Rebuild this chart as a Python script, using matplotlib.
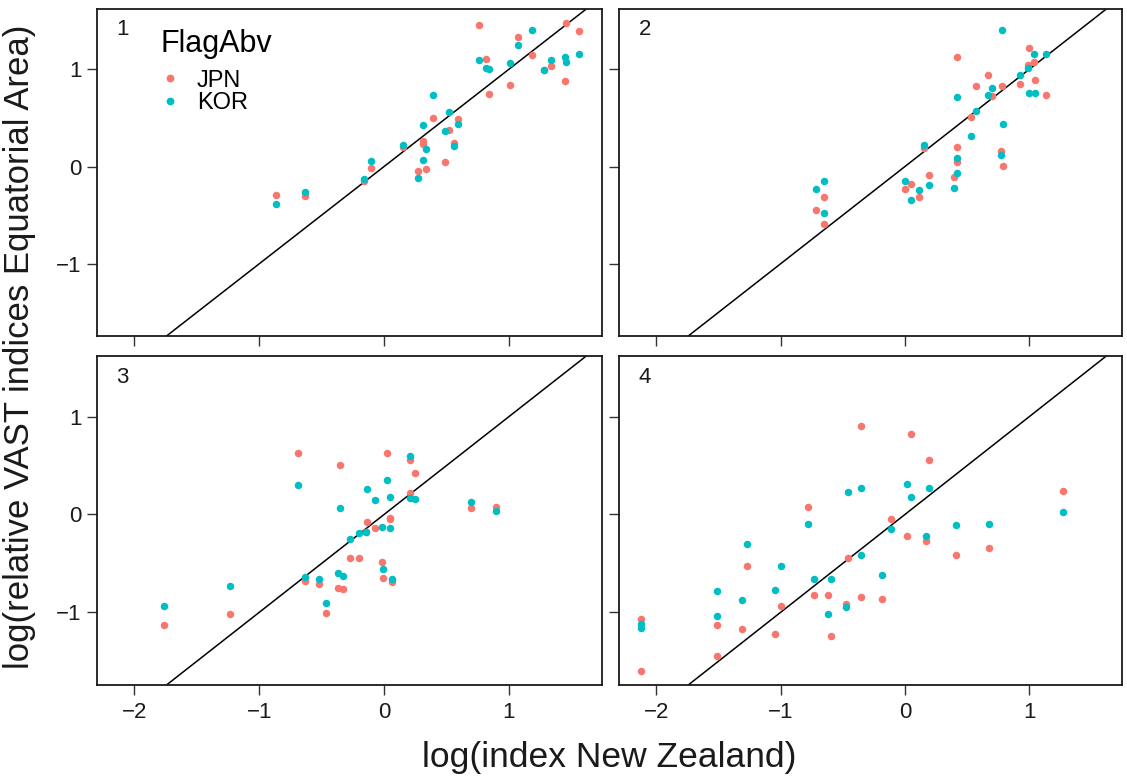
import matplotlib
matplotlib.use("Agg")
import matplotlib.pyplot as plt
from matplotlib.lines import Line2D

plt.rcParams['font.family'] = ['Liberation Sans', 'DejaVu Sans']

# ---- data ----
p1_x   = [-0.865, -0.633, -0.163, -0.104, 0.155, 0.270, 0.308, 0.308, 0.332, 0.393, 0.489, 0.521, 0.561,
          0.593, 0.761, 0.815, 0.837, 1.005, 1.074, 1.189, 1.280, 1.341, 1.448, 1.460, 1.563]
p1_jpn = [-0.298, -0.308, -0.150, -0.013, 0.199, -0.047, 0.261, 0.233, -0.027, 0.497, 0.051, 0.380, 0.244,
          0.493, 1.459, 1.110, 0.750, 0.843, 1.336, 1.151, 0.990, 1.032, 0.884, 1.477, 1.391]
p1_kor = [-0.390, -0.267, -0.130, 0.054, 0.226, -0.116, 0.425, 0.072, 0.178, 0.740, 0.364, 0.565, 0.216,
          0.440, 1.100, 1.016, 1.007, 1.063, 1.254, 1.408, 0.996, 1.093, 1.131, 1.075, 1.159]

p2_x   = [-0.712, -0.651, -0.651, 0.000, 0.051, 0.116, 0.156, 0.193, 0.394, 0.421, 0.421, 0.421, 0.533,
          0.568, 0.672, 0.700, 0.771, 0.782, 0.787, 0.929, 0.990, 1.000, 1.040, 1.043, 1.133]
p2_jpn = [-0.448, -0.311, -0.589, -0.236, -0.175, -0.311, 0.192, -0.085, -0.106, 1.127, 0.202, 0.045, 0.511,
          0.833, 0.942, 0.723, 0.158, 0.833, 0.004, 0.853, 1.048, 1.220, 1.076, 0.888, 0.740]
p2_kor = [-0.232, -0.144, -0.479, -0.150, -0.342, -0.239, 0.226, -0.191, -0.222, 0.719, 0.089, -0.062, 0.316,
          0.569, 0.734, 0.809, 0.123, 1.408, 0.436, 0.946, 1.014, 0.761, 1.158, 0.761, 1.158]

p3_x   = [-1.763, -1.234, -0.692, -0.633, -0.521, -0.462, -0.369, -0.353, -0.329, -0.272, -0.200, -0.147,
          -0.136, -0.072, -0.016, -0.008, 0.022, 0.051, 0.051, 0.067, 0.206, 0.210, 0.250, 0.695, 0.900]
p3_jpn = [-1.127, -1.018, 0.627, -0.682, -0.709, -1.004, -0.750, 0.507, -0.757, -0.449, -0.446, -0.182,
          -0.072, -0.134, -0.484, -0.645, 0.630, -0.051, -0.040, -0.692, 0.561, 0.219, 0.428, 0.062, 0.072]
p3_kor = [-0.939, -0.734, 0.301, -0.634, -0.662, -0.901, -0.600, 0.062, -0.631, -0.251, -0.189, -0.180,
          0.260, 0.150, -0.130, -0.555, 0.353, 0.178, -0.137, -0.655, 0.602, 0.164, 0.160, 0.123, 0.034]

p4_x   = [-2.120, -2.120, -1.512, -1.512, -1.309, -1.271, -1.049, -0.993, -0.776, -0.731, -0.615, -0.597,
          -0.476, -0.460, -0.353, -0.353, -0.187, -0.115, 0.014, 0.051, 0.169, 0.193, 0.413, 0.680, 1.269]
p4_jpn = [-1.069, -1.600, -1.134, -1.443, -1.169, -0.525, -1.217, -0.939, 0.079, -0.819, -0.819, -1.241,
          -0.915, -0.442, 0.908, -0.840, -0.860, -0.048, -0.223, 0.822, -0.271, 0.558, -0.411, -0.346, 0.236]
p4_kor = [-1.120, -1.165, -0.778, -1.038, -0.878, -0.305, -0.775, -0.528, -0.096, -0.662, -1.018, -0.655,
          -0.950, 0.233, 0.270, -0.411, -0.621, -0.144, 0.308, 0.181, -0.220, 0.270, -0.103, -0.096, 0.021]

panel_labels = ["1", "2", "3", "4"]
series_names = ["JPN", "KOR"]
colors = {"JPN": "#F8766D", "KOR": "#00BFC4"}
x_ticks = [-2, -1, 0, 1]
y_ticks = [-1, 0, 1]

panels = [(p1_x, p1_jpn, p1_kor), (p2_x, p2_jpn, p2_kor),
          (p3_x, p3_jpn, p3_kor), (p4_x, p4_jpn, p4_kor)]

W, H = 1127, 776
fig = plt.figure(figsize=(W / 100, H / 100), dpi=100)

# panel boxes in pixels: (left, top, right, bottom)
boxes = [(97, 9, 602, 336), (619, 9, 1122, 336),
         (97, 356, 602, 685), (619, 356, 1122, 685)]

xlim = (-2.30, 1.746)
ylim = (-1.743, 1.62)


def fmt(v):
    return "\u2212" + str(-v) if v < 0 else str(v)


for i, ((xs, jp, kr), (l, t, r, b)) in enumerate(zip(panels, boxes)):
    ax = fig.add_axes([l / W, 1 - b / H, (r - l) / W, (b - t) / H])
    ax.set_xlim(*xlim)
    ax.set_ylim(*ylim)
    ax.plot([-3, 3], [-3, 3], color="black", lw=1.1, zorder=1)
    ax.plot(xs, jp, 'o', color=colors["JPN"], ms=5.4, mec='none', zorder=2)
    ax.plot(xs, kr, 'o', color=colors["KOR"], ms=5.4, mec='none', zorder=3)
    ax.set_xticks(x_ticks)
    ax.set_yticks(y_ticks)
    ax.set_xticklabels([fmt(v) for v in x_ticks])
    ax.set_yticklabels([fmt(v) for v in y_ticks])
    ax.tick_params(direction='out', length=7.5, width=1.0, color='#333333',
                   labelsize=16, labelcolor='#1a1a1a')
    ax.tick_params(axis='x', pad=4.5)
    ax.tick_params(axis='y', pad=3.5)
    if i in (0, 1):
        ax.tick_params(axis='x', labelbottom=False)
    if i in (1, 3):
        ax.tick_params(axis='y', labelleft=False)
    for s in ax.spines.values():
        s.set_linewidth(1.3)
        s.set_color('#1a1a1a')
    ax.text(0.051, 0.936, panel_labels[i], transform=ax.transAxes,
            ha='center', va='center', fontsize=16, color='#1a1a1a')
    if i == 0:
        handles = [Line2D([], [], ls='none', marker='o', ms=5.6, mec='none',
                          color=colors[n]) for n in series_names]
        leg = ax.legend(handles, series_names, title="FlagAbv", loc='upper left',
                        bbox_to_anchor=(0.125, 0.94), frameon=False, fontsize=17,
                        title_fontsize=22, handlelength=0.85, handletextpad=0.7,
                        labelspacing=0.02, borderaxespad=0, borderpad=0.0)
        leg._legend_box.align = "left"
        leg._legend_box.sep = 8

fig.text((97 + 1122) / 2 / W, 1 - 767 / H, "log(index New Zealand)",
         ha='center', va='baseline', fontsize=25.5, color='#1a1a1a')
fig.text(20 / W, 1 - (9 + 685) / 2 / H, "log(relative VAST indices Equatorial Area)",
         ha='center', va='center', rotation=90, fontsize=25, color='#1a1a1a')

fig.savefig("out.png", dpi=100)
